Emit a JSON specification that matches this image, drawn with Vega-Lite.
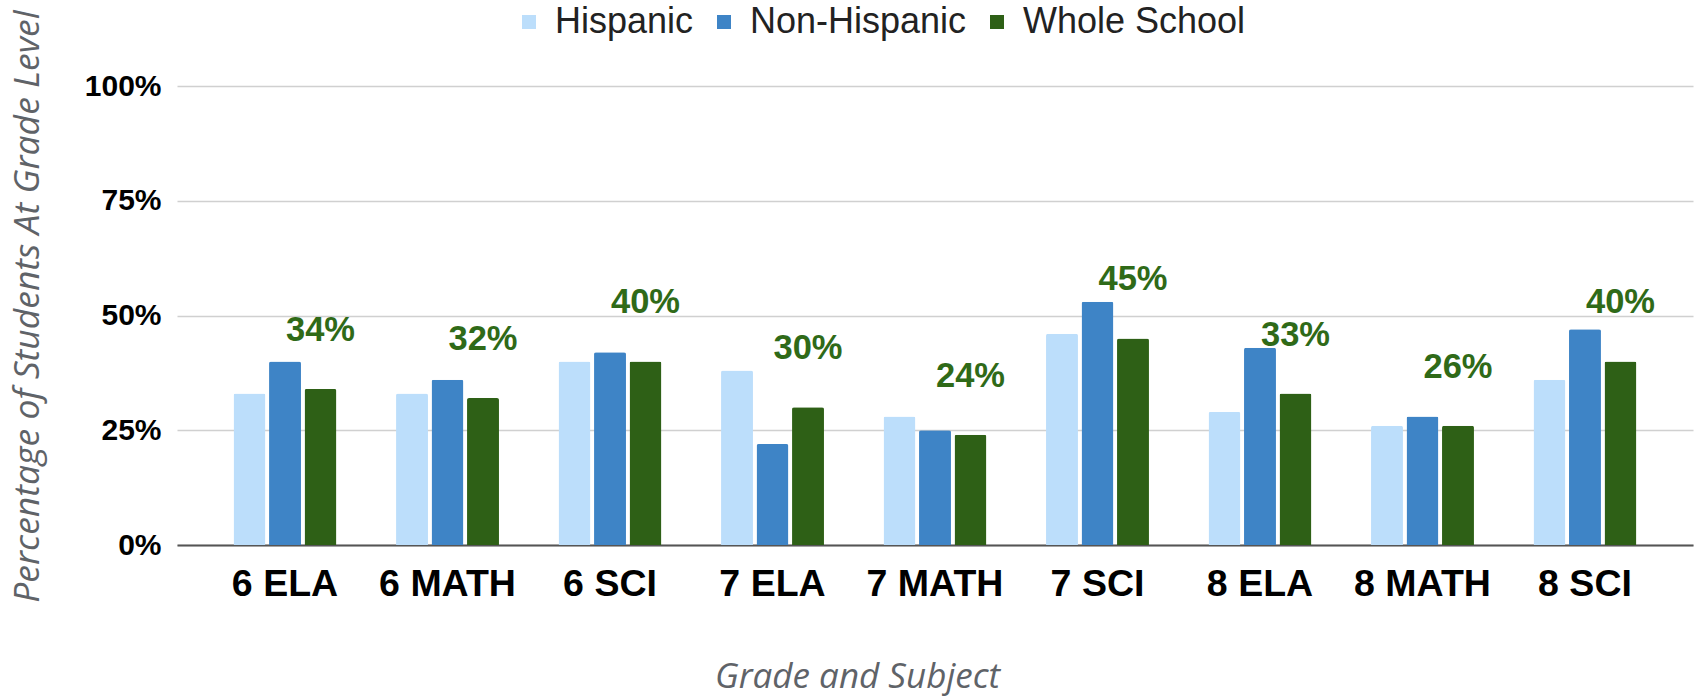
{
  "$schema": "https://vega.github.io/schema/vega-lite/v6.json",
  "autosize": "none",
  "width": 1516,
  "height": 459,
  "padding": {"left": 177, "top": 86, "right": 9, "bottom": 154},
  "background": "white",
  "config": {"view": {"stroke": null}},
  "data": {
    "values": [
      {"group": "6 ELA", "series": "Hispanic", "value": 0.33},
      {"group": "6 ELA", "series": "Non-Hispanic", "value": 0.40},
      {"group": "6 ELA", "series": "Whole School", "value": 0.34},
      {"group": "6 MATH", "series": "Hispanic", "value": 0.33},
      {"group": "6 MATH", "series": "Non-Hispanic", "value": 0.36},
      {"group": "6 MATH", "series": "Whole School", "value": 0.32},
      {"group": "6 SCI", "series": "Hispanic", "value": 0.40},
      {"group": "6 SCI", "series": "Non-Hispanic", "value": 0.42},
      {"group": "6 SCI", "series": "Whole School", "value": 0.40},
      {"group": "7 ELA", "series": "Hispanic", "value": 0.38},
      {"group": "7 ELA", "series": "Non-Hispanic", "value": 0.22},
      {"group": "7 ELA", "series": "Whole School", "value": 0.30},
      {"group": "7 MATH", "series": "Hispanic", "value": 0.28},
      {"group": "7 MATH", "series": "Non-Hispanic", "value": 0.25},
      {"group": "7 MATH", "series": "Whole School", "value": 0.24},
      {"group": "7 SCI", "series": "Hispanic", "value": 0.46},
      {"group": "7 SCI", "series": "Non-Hispanic", "value": 0.53},
      {"group": "7 SCI", "series": "Whole School", "value": 0.45},
      {"group": "8 ELA", "series": "Hispanic", "value": 0.29},
      {"group": "8 ELA", "series": "Non-Hispanic", "value": 0.43},
      {"group": "8 ELA", "series": "Whole School", "value": 0.33},
      {"group": "8 MATH", "series": "Hispanic", "value": 0.26},
      {"group": "8 MATH", "series": "Non-Hispanic", "value": 0.28},
      {"group": "8 MATH", "series": "Whole School", "value": 0.26},
      {"group": "8 SCI", "series": "Hispanic", "value": 0.36},
      {"group": "8 SCI", "series": "Non-Hispanic", "value": 0.47},
      {"group": "8 SCI", "series": "Whole School", "value": 0.40}
    ]
  },
  "encoding": {
    "x": {
      "field": "group",
      "type": "nominal",
      "sort": null,
      "scale": {"paddingInner": 0.3446, "paddingOuter": 0.337},
      "axis": {
        "title": "Grade and Subject",
        "titleFont": "Open Sans",
        "titleFontStyle": "italic",
        "titleFontWeight": "normal",
        "titleFontSize": 35,
        "titleColor": "#5f6368",
        "titleX": 680,
        "titleY": 142,
        "titleAlign": "center",
        "titleBaseline": "alphabetic",
        "labelAngle": 0,
        "labelFont": "Liberation Sans",
        "labelFontWeight": "bold",
        "labelFontSize": 37.5,
        "labelColor": "#000000",
        "labelBaseline": "alphabetic",
        "labelPadding": 50,
        "ticks": false,
        "domainColor": "#555555",
        "domainWidth": 2,
        "grid": false
      }
    },
    "xOffset": {
      "field": "series",
      "type": "nominal",
      "scale": {"paddingInner": 0.1, "paddingOuter": 0.05}
    },
    "y": {
      "field": "value",
      "type": "quantitative",
      "scale": {"domain": [0, 1], "nice": false},
      "axis": {
        "values": [0, 0.25, 0.5, 0.75, 1],
        "format": ".0%",
        "title": "Percentage of Students At Grade Level",
        "titleFont": "Open Sans",
        "titleFontStyle": "italic",
        "titleFontWeight": "normal",
        "titleFontSize": 35.5,
        "titleColor": "#5f6368",
        "titleAngle": -90,
        "titleX": -139,
        "titleY": 220,
        "titleAlign": "center",
        "titleBaseline": "alphabetic",
        "labelFont": "Liberation Sans",
        "labelFontWeight": "bold",
        "labelFontSize": 30,
        "labelColor": "#000000",
        "labelBaseline": "middle",
        "labelPadding": 16,
        "ticks": false,
        "domain": false,
        "grid": true,
        "gridColor": "#d0d0d0",
        "gridWidth": 1.5
      }
    }
  },
  "layer": [
    {
      "mark": {"type": "bar", "cornerRadiusTopLeft": 2, "cornerRadiusTopRight": 2},
      "encoding": {
        "color": {
          "field": "series",
          "type": "nominal",
          "scale": {
            "domain": ["Hispanic", "Non-Hispanic", "Whole School"],
            "range": ["#bcdefb", "#3e84c6", "#2e6016"]
          },
          "legend": {
            "title": null,
            "orient": "none",
            "direction": "horizontal",
            "legendX": 334,
            "legendY": -82,
            "padding": 0,
            "symbolType": "square",
            "symbolSize": 196,
            "symbolStrokeWidth": 0,
            "symbolOpacity": 1,
            "labelFont": "Liberation Sans",
            "labelFontSize": 36,
            "labelColor": "#222222",
            "labelOffset": 8,
            "labelLimit": 400,
            "columnPadding": 12
          }
        }
      }
    },
    {
      "transform": [{"filter": "datum.series === 'Whole School'"}],
      "mark": {
        "type": "text",
        "baseline": "alphabetic",
        "align": "center",
        "dy": -48,
        "font": "Liberation Sans",
        "fontWeight": "bold",
        "fontSize": 34.5,
        "color": "#2f6a18"
      },
      "encoding": {
        "text": {"field": "value", "type": "quantitative", "format": ".0%"}
      }
    }
  ]
}
